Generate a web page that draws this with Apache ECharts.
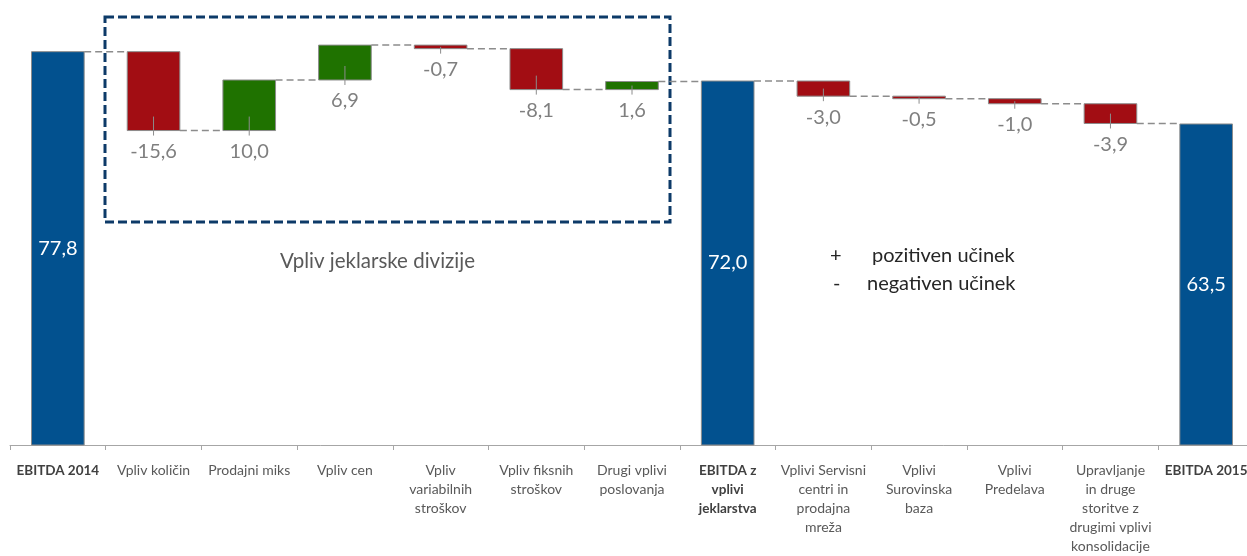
<!DOCTYPE html>
<html>
<head>
<meta charset="utf-8">
<script src="https://cdn.jsdelivr.net/npm/echarts@6/dist/echarts.min.js"></script>
<style>
  html, body { margin: 0; padding: 0; background: #fff; overflow: hidden; }
  /* os sega malo cez desni rob slike, zato je platno sirse od okna */
  #chart { width: 1254px; height: 556px; }
</style>
</head>
<body>
<div id="chart"></div>
<script>
// podatki
const categories = [
  'EBITDA 2014', 'Vpliv količin', 'Prodajni miks', 'Vpliv cen',
  'Vpliv\nvariabilnih\nstroškov', 'Vpliv fiksnih\nstroškov', 'Drugi vplivi\nposlovanja',
  'EBITDA z\nvplivi\njeklarstva', 'Vplivi Servisni\ncentri in\nprodajna\nmreža',
  'Vplivi\nSurovinska\nbaza', 'Vplivi\nPredelava',
  'Upravljanje\nin druge\nstoritve z\ndrugimi vplivi\nkonsolidacije', 'EBITDA 2015'
];
const values = [77.8, -15.6, 10.0, 6.9, -0.7, -8.1, 1.6, 72.0, -3.0, -0.5, -1.0, -3.9, 63.5];
const isTotal = [true, false, false, false, false, false, false, true, false, false, false, false, true];

const COLOR_TOTAL = '#02518f';
const COLOR_POS = '#1f7200';
const COLOR_NEG = '#a20d13';
const FONT = 'Lato, "Open Sans", sans-serif';

// tabela za waterfall: [index, spodaj, zgoraj, vrednost, konec]
const rows = [];
let running = 0;
values.forEach((v, i) => {
  let start, end;
  if (isTotal[i]) { start = 0; end = v; }
  else { start = running; end = running + v; }
  running = end;
  rows.push([i, Math.min(start, end), Math.max(start, end), v, end]);
});

const fmt = v => v.toFixed(1).replace('.', ',');

const chart = echarts.init(document.getElementById('chart'), null, { renderer: 'canvas' });

chart.setOption({
  animation: false,
  grid: { left: 10, right: 0, top: 40.56, bottom: 110 },
  xAxis: {
    type: 'category',
    data: categories,
    axisLine: { lineStyle: { color: '#a6a6a6', width: 1 } },
    axisTick: { show: true, length: 5, lineStyle: { color: '#a6a6a6' } },
    axisLabel: {
      interval: 0,
      margin: 16,
      fontFamily: FONT,
      fontSize: 14,
      lineHeight: 19,
      color: '#595959',
      formatter: (val, idx) => isTotal[idx] ? '{b|' + val + '}' : val,
      rich: {
        b: { fontWeight: 'bold', color: '#404040', fontFamily: FONT, fontSize: 13.5, lineHeight: 19 }
      }
    }
  },
  yAxis: { type: 'value', min: 0, max: 80, show: false, splitLine: { show: false } },
  series: [{
    type: 'custom',
    encode: { x: 0, y: [1, 2] },
    data: rows,
    renderItem: (params, api) => {
      const i = api.value(0);
      const lo = api.value(1), hi = api.value(2), v = api.value(3), end = api.value(4);
      const top = api.coord([i, hi]);
      const bot = api.coord([i, lo]);
      const band = api.size([1, 0])[0];
      const w = band * 0.55;
      const cx = top[0];
      const x = cx - w / 2;
      const total = isTotal[i];
      const children = [{
        type: 'rect',
        shape: { x: x, y: top[1], width: w, height: Math.max(bot[1] - top[1], 1) },
        style: { fill: total ? COLOR_TOTAL : (v >= 0 ? COLOR_POS : COLOR_NEG), stroke: '#8c8c8c', lineWidth: 1 }
      }];
      if (total) {
        children.push({
          type: 'text',
          style: {
            text: fmt(v), x: cx, y: (top[1] + bot[1]) / 2,
            fill: '#ffffff', fontSize: 20, fontFamily: FONT, align: 'center', verticalAlign: 'middle'
          }
        });
      } else {
        const mid = (top[1] + bot[1]) / 2;
        children.push({
          type: 'line',
          shape: { x1: cx, y1: Math.max(mid, bot[1] - 14), x2: cx, y2: bot[1] + 5 },
          style: { stroke: '#8c8c8c', lineWidth: 1 }
        });
        children.push({
          type: 'text',
          style: {
            text: fmt(v), x: cx, y: bot[1] + 21,
            fill: '#7f7f7f', fontSize: 20, fontFamily: FONT, align: 'center', verticalAlign: 'middle'
          }
        });
      }
      if (i < values.length - 1) {
        const ly = api.coord([i, end])[1];
        children.push({
          type: 'line',
          shape: { x1: x + w, y1: ly, x2: cx + band - w / 2, y2: ly },
          style: { stroke: '#8c8c8c', lineWidth: 1.5, lineDash: [7, 4] }
        });
      }
      return { type: 'group', children: children };
    }
  }],
  graphic: [
    {
      type: 'rect',
      shape: { x: 105, y: 17, width: 565, height: 205 },
      style: { fill: 'none', stroke: '#0d3a68', lineWidth: 3, lineDash: [9, 4] }
    },
    {
      type: 'text', left: 280, top: 251,
      style: { text: 'Vpliv jeklarske divizije', fill: '#595959', fontSize: 20.5, fontFamily: FONT }
    },
    {
      type: 'text', left: 830, top: 246,
      style: { text: '+', fill: '#262626', fontSize: 20, fontFamily: FONT }
    },
    {
      type: 'text', left: 872, top: 246,
      style: { text: 'pozitiven učinek', fill: '#262626', fontSize: 20, fontFamily: FONT }
    },
    {
      type: 'text', left: 833, top: 274,
      style: { text: '-', fill: '#262626', fontSize: 20, fontFamily: FONT }
    },
    {
      type: 'text', left: 867, top: 274,
      style: { text: 'negativen učinek', fill: '#262626', fontSize: 20, fontFamily: FONT }
    }
  ]
});
</script>
</body>
</html>
